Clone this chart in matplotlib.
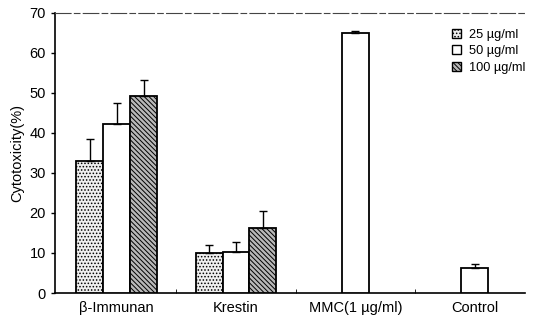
import numpy as np
import matplotlib.pyplot as plt
from matplotlib.patches import Patch

plt.rcParams['font.family'] = ['Liberation Sans', 'DejaVu Sans']
plt.rcParams['hatch.linewidth'] = 0.7

# data
groups = ['β-Immunan', 'Krestin', 'MMC(1 µg/ml)', 'Control']
doses = ['25 µg/ml', '50 µg/ml', '100 µg/ml']
val_25 = [33.0, 10.0]
err_25 = [5.6, 2.0]
val_50 = [42.3, 10.2, 65.0, 6.2]
err_50 = [5.3, 2.5, 0.4, 1.0]
val_100 = [49.3, 16.2]
err_100 = [4.0, 4.2]

x = np.arange(len(groups))
w = 0.225
h25 = '.....'
h100 = '\\\\\\\\\\\\\\'

fig = plt.figure(figsize=(5.34, 3.22), dpi=100)
ax = fig.add_axes([0.103, 0.09, 0.88, 0.87])

kw = dict(edgecolor='black', linewidth=1.3, capsize=3,
          error_kw=dict(elinewidth=1.0, capthick=1.0), zorder=3)
ax.bar(x[:2] - w, val_25, w, yerr=[np.zeros(2), err_25], color='#eeeeee',
       hatch=h25, **kw)
ax.bar(x, val_50, w, yerr=[np.zeros(4), err_50], color='white', **kw)
ax.bar(x[:2] + w, val_100, w, yerr=[np.zeros(2), err_100], color='#b8b8b8',
       hatch=h100, **kw)

ax.set_xlim(-0.517, 3.42)
ax.set_ylim(0, 70)
ax.set_yticks(range(0, 71, 10))
ax.set_xticks(x)
ax.set_xticklabels(groups, fontsize=10.5)
ax.tick_params(axis='x', length=0, pad=6)
ax.set_xticks(x[:-1] + 0.5, minor=True)
ax.tick_params(axis='x', which='minor', direction='in', length=3)
ax.tick_params(axis='y', labelsize=10.5, length=3, width=1)
ax.set_ylabel('Cytotoxicity(%)', fontsize=10.5)

ax.spines['right'].set_visible(False)
ax.spines['top'].set_linestyle((0, (14, 3, 5, 3)))
ax.spines['top'].set_color('#444444')
ax.spines['top'].set_linewidth(0.8)
ax.spines['left'].set_linewidth(1.2)
ax.spines['bottom'].set_linewidth(1.2)

handles = [Patch(facecolor='#eeeeee', edgecolor='black', hatch=h25),
           Patch(facecolor='white', edgecolor='black'),
           Patch(facecolor='#b8b8b8', edgecolor='black', hatch=h100)]
ax.legend(handles, doses, loc='upper right', bbox_to_anchor=(1.025, 0.985),
          frameon=False, fontsize=9.2, handlelength=0.7, handleheight=0.7,
          handletextpad=0.6, labelspacing=0.35)

fig.savefig('out.png', dpi=100)
